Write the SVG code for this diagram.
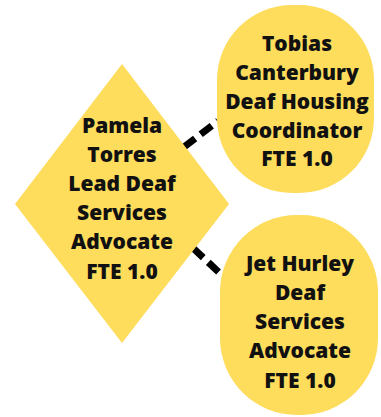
<svg xmlns="http://www.w3.org/2000/svg" width="381" height="417" viewBox="0 0 381 417">
<style>
.shape{fill:#FEDC5C;}
.lbl{font-family:"Open Sans","Liberation Sans",sans-serif;font-weight:800;font-size:21px;fill:#111;text-anchor:middle;}
.conn{stroke:#000;stroke-width:7;fill:none;stroke-dasharray:14 7;}
</style>
<rect width="381" height="417" fill="#fff"/>
<g id="connectors">
<line class="conn" x1="184" y1="147" x2="218" y2="121"/>
<line class="conn" x1="193" y1="248" x2="225" y2="278"/>
</g>
<g id="pamela">
<polygon class="shape" points="122,64 229,204 122,343 15,204"/>
<text class="lbl" x="122" y="133">Pamela</text>
<text class="lbl" x="122" y="162">Torres</text>
<text class="lbl" x="122" y="191">Lead Deaf</text>
<text class="lbl" x="122" y="220">Services</text>
<text class="lbl" x="122" y="249">Advocate</text>
<text class="lbl" x="122" y="279">FTE 1.0</text>
</g>
<g id="tobias">
<rect class="shape" x="217" y="5" width="157" height="188" rx="75" ry="75"/>
<text class="lbl" x="297" y="51">Tobias</text>
<text class="lbl" x="297" y="80">Canterbury</text>
<text class="lbl" x="297" y="109">Deaf Housing</text>
<text class="lbl" x="297" y="138">Coordinator</text>
<text class="lbl" x="297" y="166">FTE 1.0</text>
</g>
<g id="jet">
<rect class="shape" x="220" y="215" width="158" height="200" rx="77" ry="77"/>
<text class="lbl" x="300" y="271">Jet Hurley</text>
<text class="lbl" x="300" y="300">Deaf</text>
<text class="lbl" x="300" y="329">Services</text>
<text class="lbl" x="300" y="358">Advocate</text>
<text class="lbl" x="300" y="388">FTE 1.0</text>
</g>
</svg>
